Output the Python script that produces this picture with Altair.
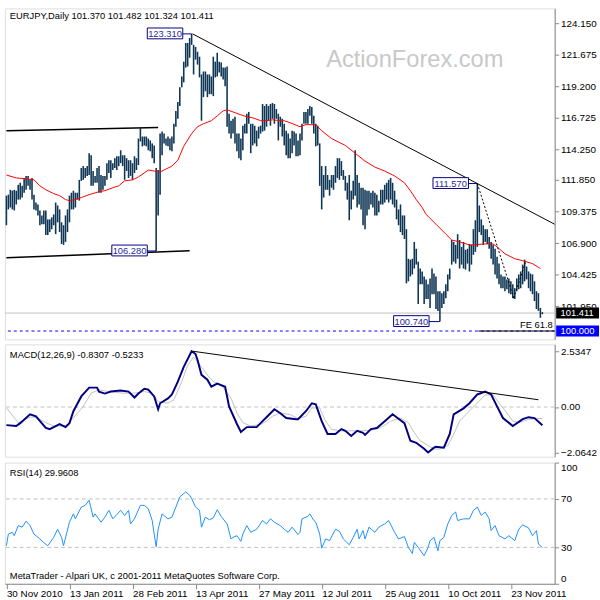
import altair as alt
import pandas as pd

FONT = "Liberation Sans"
FS = 9.5

# ---------------- data ----------------
date_labels = ["30 Nov 2010", "13 Jan 2011", "28 Feb 2011", "13 Apr 2011", "27 May 2011",
               "12 Jul 2011", "25 Aug 2011", "10 Oct 2011", "23 Nov 2011"]
price_ticks = [124.150, 121.675, 119.200, 116.725, 114.250, 111.850, 109.375, 106.900, 104.425, 101.950]

highs = [110.62, 110.70, 111.08, 111.01, 111.08, 111.01, 111.47, 111.63, 111.39, 112.01,
         112.17, 112.17, 111.86, 112.01, 110.70, 110.08, 109.93, 109.46, 109.07, 109.46,
         109.46, 108.76, 108.76, 108.92, 109.15, 110.08, 109.85, 109.54, 108.53, 108.30,
         109.07, 109.54, 110.62, 110.85, 111.01, 110.85, 110.85, 111.86, 112.79, 112.94,
         112.79, 112.94, 113.95, 113.79, 112.55, 112.17, 112.79, 112.94, 112.24, 112.17,
         112.17, 113.17, 113.40, 113.40, 113.17, 113.56, 113.71, 113.71, 114.18, 113.79,
         113.79, 113.56, 113.40, 113.40, 113.17, 113.71, 113.56, 115.10, 115.96, 115.26,
         115.26, 115.26, 115.10, 114.95, 114.72, 114.56, 112.79, 112.63, 115.49, 115.65,
         115.49, 115.10, 115.26, 115.10, 115.26, 116.26, 117.27, 117.96, 119.12, 119.97,
         121.13, 122.60, 122.60, 122.99, 123.31, 122.45, 122.29, 121.91, 121.52, 120.13,
         120.36, 120.36, 120.13, 120.13, 119.97, 121.52, 121.13, 121.83, 121.13, 121.06,
         120.67, 120.67, 120.75, 117.04, 116.50, 116.65, 116.81, 115.49, 115.49, 115.10,
         116.11, 116.26, 117.04, 117.19, 116.26, 116.26, 116.11, 115.72, 116.03, 116.11,
         117.81, 117.66, 117.81, 117.66, 117.81, 117.89, 117.81, 117.42, 117.04, 116.81,
         116.65, 116.26, 115.72, 115.49, 115.10, 115.72, 115.65, 115.49, 114.95, 115.49,
         116.26, 117.19, 117.19, 117.42, 117.66, 117.58, 116.88, 116.26, 116.11, 114.72,
         112.94, 112.24, 112.94, 112.24, 111.86, 112.24, 112.24, 112.94, 113.56, 113.56,
         113.33, 112.63, 112.17, 111.63, 112.24, 111.01, 111.78, 114.18, 112.24, 111.63,
         111.24, 111.24, 111.08, 111.01, 111.01, 110.85, 111.01, 110.85, 110.70, 110.23,
         111.08, 111.08, 111.47, 111.63, 111.86, 112.01, 111.63, 111.01, 110.31, 109.54,
         109.93, 109.07, 109.07, 107.99, 105.67, 105.60, 105.67, 106.99, 106.45, 105.44,
         104.90, 104.67, 104.28, 104.05, 103.67, 104.13, 104.90, 104.51, 104.28, 103.12,
         103.12, 102.97, 103.12, 103.67, 104.44, 104.90, 107.14, 106.99, 106.76, 107.60,
         107.14, 106.60, 106.99, 106.37, 106.45, 106.83, 106.76, 107.99, 108.69, 111.57,
         109.85, 108.76, 108.30, 107.99, 107.99, 107.37, 106.99, 106.76, 106.45, 105.83,
         105.29, 104.44, 104.28, 104.28, 104.05, 104.13, 103.90, 103.67, 103.36, 104.13,
         104.44, 104.67, 105.21, 105.60, 105.06, 104.67, 104.51, 104.44, 103.90, 103.12,
         102.97, 101.81, 101.48]

lows = [108.30, 109.54, 109.69, 109.54, 109.46, 109.93, 110.31, 110.31, 110.47, 110.85,
        111.08, 111.39, 111.08, 110.31, 109.54, 109.46, 109.07, 108.30, 108.38, 108.38,
        107.53, 107.53, 107.76, 107.99, 108.30, 107.60, 108.53, 107.76, 106.83, 106.76,
        106.99, 107.76, 108.53, 109.54, 109.54, 109.69, 110.31, 110.23, 111.78, 111.86,
        112.01, 112.17, 112.24, 111.39, 111.39, 111.63, 111.63, 110.85, 110.85, 111.08,
        111.39, 111.86, 112.40, 112.01, 112.63, 112.79, 112.63, 112.94, 113.17, 112.94,
        111.86, 112.55, 112.01, 112.17, 111.86, 112.40, 112.63, 113.02, 114.87, 114.49,
        114.56, 114.49, 114.18, 114.10, 113.56, 113.17, 106.28, 109.07, 110.70, 113.79,
        114.72, 114.56, 114.49, 114.18, 114.10, 114.72, 116.03, 116.65, 117.66, 119.12,
        119.51, 120.67, 120.75, 121.44, 122.45, 120.13, 121.29, 120.90, 119.90, 116.50,
        118.35, 118.81, 118.35, 118.58, 118.58, 118.43, 119.90, 119.97, 120.28, 119.97,
        119.74, 119.20, 116.03, 115.49, 115.10, 115.49, 114.72, 114.10, 113.56, 113.40,
        114.18, 115.49, 115.49, 116.26, 113.95, 114.56, 114.72, 114.49, 115.10, 115.49,
        115.65, 115.72, 116.03, 116.50, 116.11, 116.65, 116.26, 116.65, 114.95, 116.03,
        115.26, 114.56, 113.79, 113.56, 113.56, 113.95, 114.56, 113.71, 113.71, 113.79,
        114.95, 116.26, 116.26, 116.26, 116.88, 116.26, 115.49, 114.49, 114.56, 111.39,
        109.54, 110.47, 111.08, 111.08, 110.62, 111.24, 111.08, 111.63, 112.01, 111.86,
        112.17, 111.86, 111.01, 110.31, 108.69, 109.54, 110.31, 110.62, 109.69, 109.93,
        109.54, 108.30, 107.99, 109.07, 109.54, 109.93, 109.69, 109.07, 109.07, 109.31,
        109.93, 109.93, 110.08, 110.31, 110.08, 110.31, 109.93, 109.69, 108.76, 108.30,
        107.76, 107.53, 107.22, 103.74, 103.90, 104.28, 104.44, 104.90, 105.21, 102.12,
        103.67, 103.67, 102.12, 102.51, 102.51, 101.81, 102.89, 102.89, 101.73, 101.58,
        100.74, 101.81, 102.12, 102.58, 103.12, 104.05, 105.21, 105.44, 105.29, 105.67,
        104.90, 105.21, 104.90, 104.82, 105.29, 104.67, 105.21, 105.98, 106.21, 106.60,
        107.76, 107.53, 106.76, 106.99, 106.83, 106.45, 105.67, 105.21, 104.44, 104.13,
        103.67, 103.36, 103.36, 103.12, 103.28, 102.97, 102.89, 102.58, 102.51, 103.12,
        103.28, 103.36, 103.67, 103.90, 104.05, 103.36, 103.12, 102.89, 102.35, 101.73,
        101.58, 101.04, 101.32]

ma_idx = [0, 5, 10, 14, 17, 20, 24, 27, 30, 32, 35, 38, 42, 47, 50, 54, 57, 60, 64, 67,
          70, 72, 75, 78, 80, 84, 87, 90, 94, 97, 100, 104, 107, 110, 112, 115, 119, 122, 125, 129,
          132, 135, 139, 141, 144, 149, 152, 157, 160, 165, 172, 177, 182, 187, 192, 197, 202, 205, 208, 211,
          213, 218, 223, 226, 230, 235, 238, 242, 247, 249, 253, 258, 262, 267, 271]
ma_val = [112.24, 112.01, 111.94, 111.86, 111.39, 111.08, 110.78, 110.62, 110.31, 110.23,
          110.31, 110.47, 110.70, 110.93, 111.01, 111.24, 111.39, 111.78, 111.86, 112.09,
          112.40, 112.63, 112.55, 112.48, 112.63, 112.94, 113.40, 114.49, 115.49, 116.03,
          116.26, 116.50, 116.88, 117.27, 117.35, 117.19, 116.96, 116.81, 116.73, 116.50,
          116.50, 116.57, 116.50, 116.50, 116.34, 116.03, 116.19, 116.19, 115.72, 115.10,
          114.56, 113.95, 113.33, 112.86, 112.55, 112.17, 111.63, 111.01, 110.31, 109.69,
          109.15, 108.38, 107.60, 107.14, 106.99, 106.76, 106.76, 106.83, 106.83, 106.60,
          106.06, 105.67, 105.52, 105.29, 104.90]

macd_idx = [0, 5, 7, 12, 15, 20, 22, 25, 27, 30, 32, 34, 38, 42, 46, 47, 50, 53, 58, 62,
            65, 67, 70, 72, 75, 77, 78, 82, 84, 87, 90, 94, 96, 97, 99, 102, 104, 107, 111, 113,
            117, 119, 122, 125, 127, 130, 132, 136, 139, 142, 147, 148, 152, 155, 157, 160, 163, 167, 170, 172,
            175, 178, 181, 182, 185, 188, 192, 196, 198, 202, 205, 208, 212, 214, 217, 218, 222, 225, 227, 232,
            235, 239, 243, 246, 249, 252, 257, 262, 265, 268, 272]
macd_val = [-0.82, -0.86, -0.73, -0.33, -0.42, -0.95, -1.00, -0.86, -0.77, -0.91,
            -0.73, -0.19, 0.48, 0.88, 0.88, 0.70, 0.61, 0.70, 0.75, 0.70,
            0.43, 0.61, 0.83, 0.79, 0.48, -0.10, 0.17, 0.39, 0.57, 1.15,
            1.82, 2.53, 2.40, 2.13, 1.46, 1.24, 0.92, 1.06, 0.92, 0.03,
            -0.77, -1.13, -0.91, -0.91, -0.91, -0.64, -0.46, -0.10, -0.28, -0.50,
            -0.55, -0.55, -0.19, 0.17, 0.12, -0.64, -1.22, -1.22, -1.00, -1.08,
            -1.31, -1.08, -1.17, -1.26, -1.00, -0.95, -0.64, -0.33, -0.46, -0.73,
            -1.53, -1.62, -1.89, -2.06, -1.84, -1.80, -1.84, -1.22, -0.33, -0.06,
            0.17, 0.57, 0.70, 0.57, 0.03, -0.50, -0.86, -0.55, -0.46, -0.50, -0.83]

sig_idx = [0, 6, 12, 15, 20, 24, 29, 31, 34, 39, 43, 47, 52, 59, 65, 70, 74, 77, 82, 85,
           89, 92, 95, 99, 102, 105, 109, 114, 117, 120, 124, 129, 132, 135, 139, 144, 148, 152, 155, 159,
           162, 165, 170, 175, 180, 185, 190, 195, 200, 204, 207, 210, 214, 217, 220, 224, 227, 230, 234, 239,
           243, 247, 250, 254, 257, 260, 265, 269, 272]
sig_val = [-0.04, -0.71, -0.46, -0.46, -0.71, -0.86, -0.86, -0.79, -0.49, 0.03,
           0.63, 0.78, 0.70, 0.63, 0.63, 0.70, 0.63, 0.25, 0.18, 0.33,
           1.15, 1.89, 2.26, 1.82, 1.45, 1.15, 1.00, 0.40, -0.27, -0.71,
           -0.86, -0.79, -0.64, -0.42, -0.27, -0.34, -0.52, -0.42, -0.04, -0.04,
           -0.64, -1.01, -1.08, -1.08, -1.08, -1.05, -0.94, -0.64, -0.49, -0.71,
           -1.16, -1.53, -1.75, -1.90, -1.90, -1.75, -1.23, -0.64, -0.27, 0.18,
           0.55, 0.55, 0.18, -0.27, -0.64, -0.71, -0.56, -0.52, -0.52]

rsi_idx = [0, 1, 3, 4, 6, 8, 10, 12, 14, 17, 19, 21, 24, 26, 28, 29, 32, 34, 35, 38,
           40, 42, 44, 45, 48, 50, 52, 54, 58, 60, 62, 63, 65, 68, 70, 72, 74, 75, 76, 77,
           79, 82, 84, 86, 88, 91, 93, 94, 96, 98, 99, 101, 103, 105, 107, 109, 112, 114, 115, 117,
           119, 120, 122, 124, 127, 130, 132, 134, 136, 139, 141, 143, 145, 148, 149, 150, 153, 154, 156, 157,
           159, 160, 162, 164, 167, 169, 171, 174, 176, 178, 179, 181, 182, 184, 187, 189, 192, 194, 197, 199,
           202, 204, 206, 207, 209, 212, 214, 215, 217, 219, 220, 222, 224, 226, 228, 229, 232, 235, 237, 239,
           241, 243, 245, 246, 248, 250, 253, 255, 258, 260, 262, 265, 267, 269, 270, 272]
rsi_val = [31.4, 41.0, 42.5, 39.7, 48.0, 46.7, 51.7, 48.0, 41.0, 37.0, 34.0, 31.4, 38.3, 45.0, 38.3, 31.4,
           50.8, 57.7, 53.6, 63.3, 64.7, 68.9, 55.0, 57.7, 50.8, 55.0, 60.6, 53.6, 60.6, 56.4,
           60.6, 49.4, 53.6, 64.7, 64.7, 61.9, 52.2, 41.0, 30.6, 45.0, 57.7, 53.6, 55.0, 63.3,
           71.7, 75.8, 73.1, 70.3, 63.3, 60.6, 46.7, 55.0, 52.8, 54.4, 61.1, 55.6, 49.4, 37.0,
           38.3, 39.7, 35.0, 41.0, 48.0, 42.5, 45.0, 52.2, 49.4, 53.6, 50.8, 48.0, 45.0, 42.5,
           46.7, 40.6, 42.5, 53.6, 55.6, 57.7, 52.2, 50.8, 41.0, 29.4, 37.0, 35.6, 45.0, 43.3,
           37.0, 32.2, 38.3, 45.0, 37.0, 43.9, 37.0, 46.7, 42.5, 46.7, 49.4, 52.2, 42.5, 37.0,
           38.9, 30.0, 25.0, 34.2, 30.0, 23.1, 30.0, 35.6, 38.3, 27.2, 35.6, 38.3, 49.4, 56.4,
           59.2, 52.2, 53.6, 53.6, 60.6, 63.3, 56.4, 59.2, 53.6, 43.9, 48.0, 39.7, 37.0, 39.7,
           35.6, 45.0, 48.6, 46.1, 39.7, 43.9, 32.8, 29.96]

# annotation boxes on the price panel
lbl_text = ["123.310", "106.280", "111.570", "100.740"]
lbl_idx = [80.5, 62.5, 225.5, 205.5]
lbl_bar = [94.0, 76.0, 239.0, 220.0]
lbl_price = [123.31, 106.28, 111.57, 100.74]

# drawn trend / channel lines (index, price)
chan_x = [0, 0]
chan_x2 = [77, 93]
chan_y = [115.72, 105.75]
chan_y2 = [115.96, 106.29]
trend_x, trend_x2, trend_y, trend_y2 = [94.5], [278.2], [123.31], [108.38]
fib_x = [239, 257.5]
fib_x2 = [257.5, 263.5]
fib_y = [111.57, 102.58]
fib_y2 = [102.58, 105.44]
fe_level = 100.0
fe_start = 239.5
last_price = 101.411
macd_tl_x, macd_tl_x2, macd_tl_y, macd_tl_y2 = [94.5], [270], [2.53], [0.33]

title_price = "EURJPY,Daily  101.370 101.482 101.324 101.411"
title_macd = "MACD(12,26,9) -0.8307 -0.5233"
title_rsi = "RSI(14) 29.9608"
copyright_txt = "MetaTrader - Alpari UK, c 2001-2011 MetaQuotes Software Corp."

# ---------------- frames ----------------
bars = pd.DataFrame({"i": list(range(len(highs))), "h": highs, "l": lows})
ma = pd.DataFrame({"i": ma_idx, "v": ma_val})
macd = pd.DataFrame({"i": macd_idx, "v": macd_val})
sig = pd.DataFrame({"i": sig_idx, "v": sig_val})
rsi = pd.DataFrame({"i": rsi_idx, "v": rsi_val})
lbl = pd.DataFrame({"t": lbl_text, "i": lbl_idx, "b": lbl_bar, "p": lbl_price})
chan = pd.DataFrame({"x": chan_x, "x2": chan_x2, "y": chan_y, "y2": chan_y2})
trend = pd.DataFrame({"x": trend_x, "x2": trend_x2, "y": trend_y, "y2": trend_y2})
fib = pd.DataFrame({"x": fib_x, "x2": fib_x2, "y": fib_y, "y2": fib_y2})
fe_seg = pd.DataFrame({"x": [fe_start], "x2": [278.2], "y": [fe_level]})
levels = pd.DataFrame({"p": [last_price, fe_level], "t": ["%.3f" % last_price, "%.3f" % fe_level],
                       "c": ["black", "#0000ff"]})
mtl = pd.DataFrame({"x": macd_tl_x, "x2": macd_tl_x2, "y": macd_tl_y, "y2": macd_tl_y2})

W = 558
H1, H2, H3 = 336, 114, 123

xs = alt.Scale(domain=[-0.75, 278.25], nice=False, zero=False)
ps = alt.Scale(domain=[99.34, 125.31], nice=False, zero=False)
ms = alt.Scale(domain=[-2.25, 2.84], nice=False, zero=False)
rs = alt.Scale(domain=[0, 100], nice=False, zero=False)

price_axis = alt.Axis(orient="right", values=price_ticks, format=".3f", tickSize=4,
                      labelPadding=2, title=None, grid=False)
macd_axis = alt.Axis(orient="right", values=[2.5347, 0, -2.0642], tickSize=4, labelPadding=2,
                     title=None, grid=False,
                     labelExpr="datum.value == 0 ? '0.00' : format(datum.value, '.4f')")
rsi_axis = alt.Axis(orient="right", values=[100, 70, 30, 0], tickSize=4, labelPadding=2, title=None,
                    grid=False,
                    labelBaseline={"condition": [{"test": "datum.value >= 100", "value": "top"},
                                                 {"test": "datum.value <= 0", "value": "bottom"}],
                                   "value": "middle"})
label_js = "[" + ",".join("'%s'" % d for d in date_labels) + "]"
x_axis = alt.Axis(values=[32 * k for k in range(len(date_labels))], labelAlign="left", tickSize=5,
                  labelPadding=0, title=None, grid=False, labelOverlap=False, labelFlush=False,
                  labelExpr=label_js + "[round(datum.value / 32)]")


def X(f, axis=None):
    return alt.X(f, type="quantitative", scale=xs, axis=axis)


def PY(f):
    return alt.Y(f, type="quantitative", scale=ps, axis=price_axis)


def MY(f):
    return alt.Y(f, type="quantitative", scale=ms, axis=macd_axis)


def RY(f):
    return alt.Y(f, type="quantitative", scale=rs, axis=rsi_axis)


def txt(t, x, y, **kw):
    return alt.Chart(pd.DataFrame({"t": [t]})).mark_text(
        align="left", baseline="middle", font=FONT, fontSize=FS, color="black", **kw
    ).encode(x=alt.value(x), y=alt.value(y), text="t:N")


# ---------------- price panel ----------------
p_bars = alt.Chart(bars).mark_rule(color="#0e3554", strokeWidth=1.6).encode(
    x=X("i"), y=PY("l"), y2="h")
p_ma = alt.Chart(ma).mark_line(color="#ff0000", strokeWidth=1).encode(x=X("i"), y=PY("v"))
p_last = alt.Chart(pd.DataFrame({"p": [last_price]})).mark_rule(color="#c0c0c0").encode(y=PY("p"))
p_fe = alt.Chart(pd.DataFrame({"p": [fe_level]})).mark_rule(color="#0000ff", strokeDash=[3, 3]).encode(y=PY("p"))
p_fe_seg = alt.Chart(fe_seg).mark_rule(color="black").encode(x=X("x"), x2="x2", y=PY("y"))
p_chan = alt.Chart(chan).mark_rule(color="black", strokeWidth=1.5).encode(x=X("x"), x2="x2", y=PY("y"), y2="y2")
p_trend = alt.Chart(trend).mark_rule(color="black", strokeWidth=1).encode(x=X("x"), x2="x2", y=PY("y"), y2="y2")
p_fib = alt.Chart(fib).mark_rule(color="black", strokeDash=[2, 2]).encode(x=X("x"), x2="x2", y=PY("y"), y2="y2")
p_conn = alt.Chart(lbl).mark_rule(color="#000080").encode(x=X("i"), x2="b", y=PY("p"))
p_box = alt.Chart(lbl).mark_rect(fill="white", stroke="#000080", strokeWidth=1,
                                 xOffset=-18, x2Offset=18, yOffset=-6, y2Offset=5).encode(
    x=X("i"), x2="i", y=PY("p"), y2="p")
p_lbl = alt.Chart(lbl).mark_text(font=FONT, fontSize=FS, color="#2a2a9a", baseline="middle").encode(
    x=X("i"), y=PY("p"), text="t:N")
p_lvbox = alt.Chart(levels).mark_rect(yOffset=-5.5, y2Offset=5.5).encode(
    x=alt.value(W + 1.5), x2=alt.value(W + 45), y=PY("p"), y2="p",
    color=alt.Color("c:N", scale=None))
p_lvtxt = alt.Chart(levels).mark_text(align="left", baseline="middle", font=FONT, fontSize=FS,
                                      color="white").encode(x=alt.value(W + 6), y=PY("p"), text="t:N")
p_fetxt = alt.Chart(pd.DataFrame({"p": [fe_level], "t": ["FE 61.8"]})).mark_text(
    align="right", baseline="bottom", dy=-1, font=FONT, fontSize=FS, color="black").encode(
    x=alt.value(W - 2), y=PY("p"), text="t:N")
p_wm = alt.Chart(pd.DataFrame({"t": ["ActionForex.com"]})).mark_text(
    align="center", baseline="middle", font=FONT, fontSize=24, color="#c8c8c8").encode(
    x=alt.value(416), y=alt.value(52), text="t:N")
p_title = txt(title_price, 5, 8)

price = alt.layer(p_wm, p_last, p_fe, p_fe_seg, p_chan, p_trend, p_bars, p_ma, p_fib,
                  p_conn, p_box, p_lbl, p_fetxt, p_lvbox, p_lvtxt, p_title).properties(width=W, height=H1)

# ---------------- MACD panel ----------------
m_zero = alt.Chart(pd.DataFrame({"v": [0.0]})).mark_rule(color="#c0c0c0", strokeDash=[4, 3]).encode(
    y=MY("v"))
m_sig = alt.Chart(sig).mark_line(color="#c0c0c0", strokeWidth=1).encode(x=X("i"), y=MY("v"))
m_macd = alt.Chart(macd).mark_line(color="#000080", strokeWidth=2).encode(x=X("i"), y=MY("v"))
m_tl = alt.Chart(mtl).mark_rule(color="black").encode(x=X("x"), x2="x2", y=MY("y"), y2="y2")
m_title = txt(title_macd, 5, 11)
macd_panel = alt.layer(m_zero, m_sig, m_macd, m_tl, m_title).properties(width=W, height=H2)

# ---------------- RSI panel ----------------
r_lv = alt.Chart(pd.DataFrame({"v": [70, 30]})).mark_rule(color="#c0c0c0", strokeDash=[4, 3]).encode(
    y=RY("v"))
r_line = alt.Chart(rsi).mark_line(color="#1e90ff", strokeWidth=1).encode(
    x=X("i", x_axis), y=RY("v"))
r_title = txt(title_rsi, 5, 11)
r_copy = txt(copyright_txt, 5, 115)
rsi_panel = alt.layer(r_lv, r_line, r_title, r_copy).properties(width=W, height=H3)

chart = alt.vconcat(price, macd_panel, rsi_panel, spacing=3).properties(
    padding={"left": 2, "top": 3, "right": 0, "bottom": 0}
).configure_view(stroke="black", strokeWidth=1).configure_axis(
    labelFont=FONT, labelFontSize=FS, labelColor="black", tickColor="black", domainColor="black"
).configure(background="white")

chart.save("out.html", embed_options={"renderer": "svg", "actions": False})
